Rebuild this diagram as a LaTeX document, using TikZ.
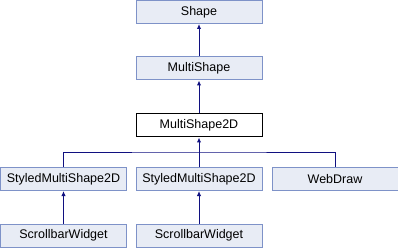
\documentclass[tikz,border=0pt]{standalone}
\usepackage{fontspec}
\setmainfont{Liberation Sans}
\usepackage{tikz}
\usetikzlibrary{arrows.meta}
\definecolor{boxfill}{RGB}{232,236,245}
\definecolor{boxline}{RGB}{126,146,200}
\definecolor{edgecol}{RGB}{16,16,128}

\begin{document}
\begin{tikzpicture}[x=1pt,y=-1pt,
	cls/.style={draw=boxline,fill=boxfill,line width=1pt,minimum width=126pt,minimum height=23pt,
		inner sep=0pt,font=\fontsize{12.5}{14}\selectfont},
	cur/.style={cls,draw=black,fill=white},
	inh/.style={edgecol,line width=1pt,-{Latex[length=5pt,width=4.5pt]}},
	bus/.style={edgecol,line width=1pt}]
	\useasboundingbox (0,0) rectangle (398,248);
	\node[cls] (shape) at (199,12) {Shape};
	\node[cls] (ms) at (199,68.5) {MultiShape};
	\node[cur] (ms2d) at (199,125.5) {MultiShape2D};
	\node[cls] (sms1) at (63.5,179) {StyledMultiShape2D};
	\node[cls] (sms2) at (199,179) {StyledMultiShape2D};
	\node[cls] (web) at (335,179) {WebDraw};
	\node[cls] (sw1) at (63.5,235.5) {ScrollbarWidget};
	\node[cls] (sw2) at (199,235.5) {ScrollbarWidget};
	\coordinate (join) at (199,152);
	\draw[inh] (ms) -- (shape);
	\draw[inh] (ms2d) -- (ms);
	\draw[inh] (join) -- (ms2d);
	\draw[bus] (sms1.north) |- (join) -| (web.north);
	\draw[bus] (sms2.north) -- (join);
	\draw[inh] (sw1) -- (sms1);
	\draw[inh] (sw2) -- (sms2);
\end{tikzpicture}
\end{document}
